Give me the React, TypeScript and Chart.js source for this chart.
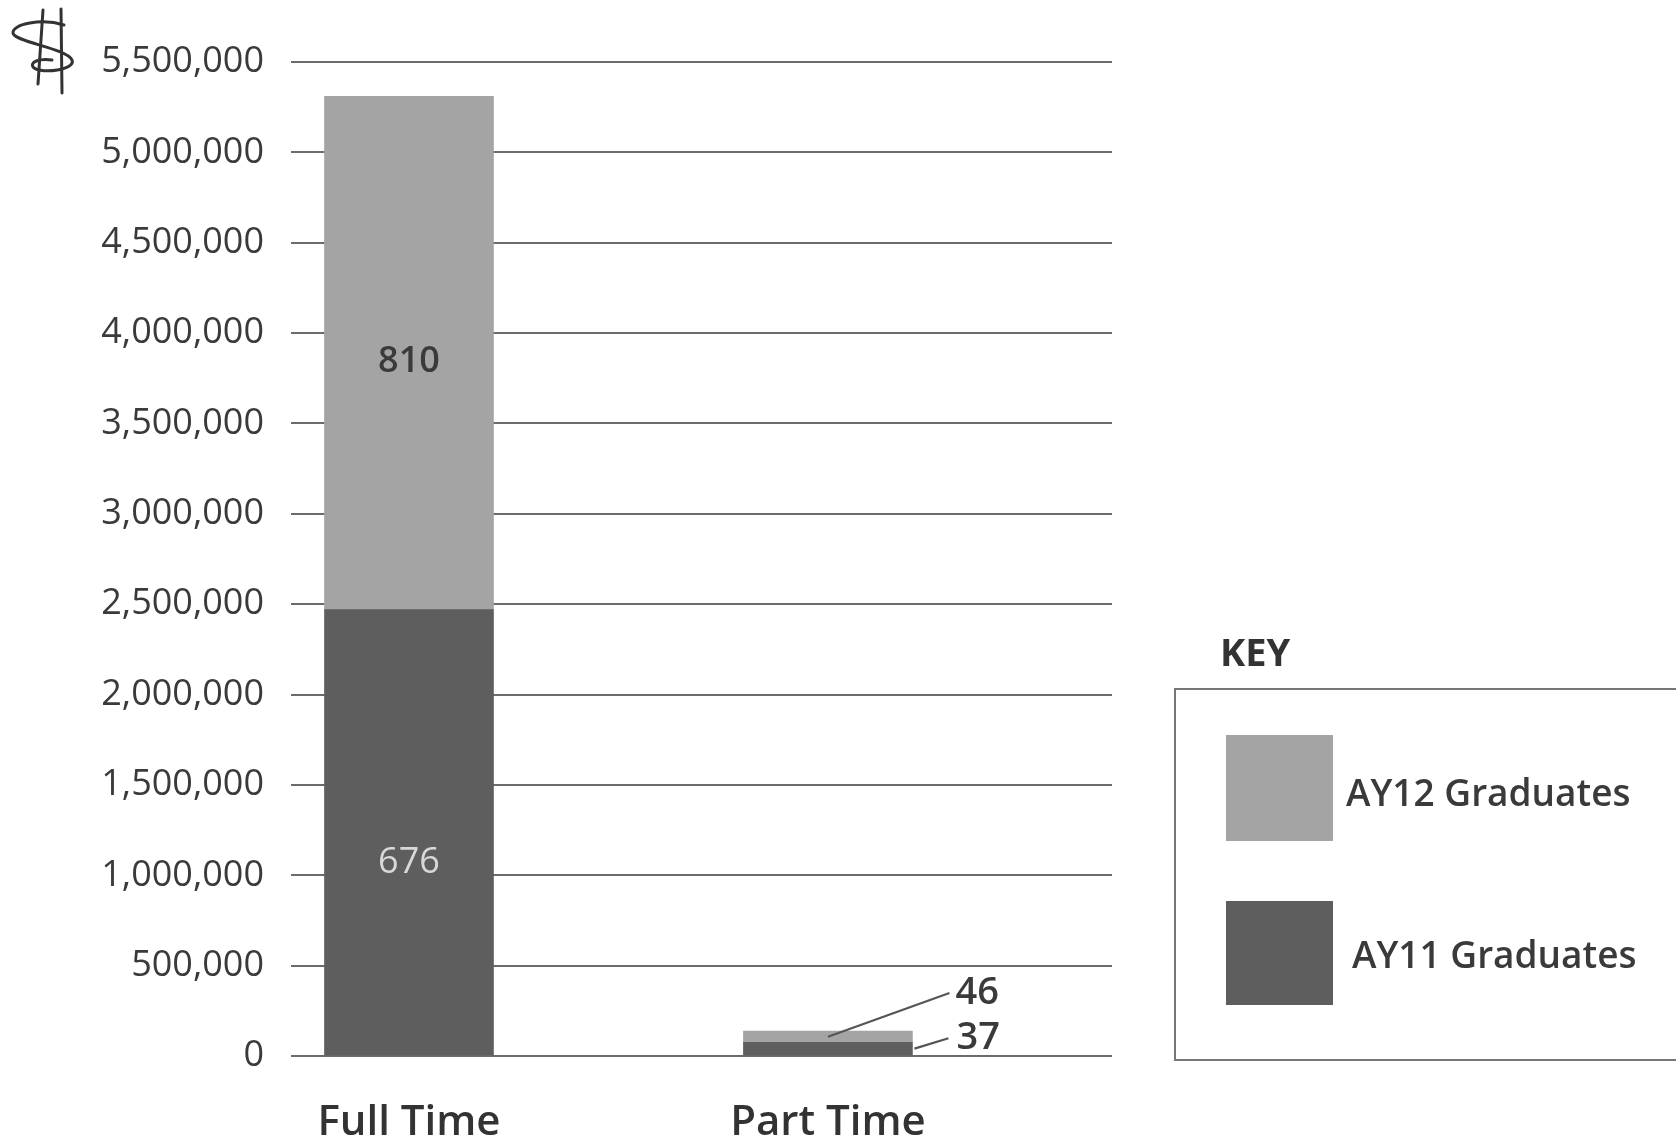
import React, { useEffect, useRef } from "react";
import { Chart, registerables } from "chart.js";

Chart.register(...registerables);

const categories = ["Full Time", "Part Time"];
const ay11Values = [2470000, 76000];
const ay12Values = [2840000, 62000];
const ay11Counts = ["676", "37"];
const ay12Counts = ["810", "46"];
const yMax = 5500000;
const yStep = 500000;
const seriesNames = ["AY11 Graduates", "AY12 Graduates"];
const keyTitle = "KEY";

const LIGHT = "#a4a4a4";
const DARK = "#5e5e5e";
const TEXT = "#3a3a3a";
const FONT = "'Open Sans', 'Noto Sans', sans-serif";

const annotations = {
  id: "annotations",
  afterDatasetsDraw(chart: any) {
    const ctx = chart.ctx;
    const m0 = chart.getDatasetMeta(0);
    const m1 = chart.getDatasetMeta(1);
    const d0 = m0.data[0].getProps(["x", "y", "base", "width"], true);
    const l0 = m1.data[0].getProps(["x", "y", "base", "width"], true);
    ctx.save();
    ctx.textAlign = "center";
    ctx.textBaseline = "middle";
    // full-time labels
    ctx.font = `600 36px ${FONT}`;
    ctx.fillStyle = TEXT;
    ctx.fillText(ay12Counts[0], l0.x, (l0.y + l0.base) / 2 + 9);
    ctx.font = `400 36px ${FONT}`;
    ctx.fillStyle = "#d8d8d8";
    ctx.fillText(ay11Counts[0], d0.x, (d0.y + d0.base) / 2 + 30);

    // part-time leader labels
    const d1 = m0.data[1].getProps(["x", "y", "base", "width"], true);
    const l1 = m1.data[1].getProps(["x", "y", "base", "width"], true);
    const right = l1.x + l1.width / 2;
    ctx.strokeStyle = "#555";
    ctx.lineWidth = 2.2;
    const y46 = l1.y - 38;
    ctx.beginPath();
    ctx.moveTo(l1.x, (l1.y + l1.base) / 2);
    ctx.lineTo(right + 37, y46);
    ctx.stroke();
    const y37 = d1.y - 4;
    ctx.beginPath();
    ctx.moveTo(right + 2, (d1.y + d1.base) / 2);
    ctx.lineTo(right + 36, y37);
    ctx.stroke();
    ctx.font = `600 38px ${FONT}`;
    ctx.fillStyle = TEXT;
    ctx.textAlign = "left";
    ctx.fillText(ay12Counts[1], right + 43, y46);
    ctx.fillText(ay11Counts[1], right + 44, y37);
    ctx.restore();
  },
  afterDraw(chart: any) {
    const ctx = chart.ctx;
    ctx.save();
    // hand-drawn dollar sign
    ctx.strokeStyle = "#333";
    ctx.lineWidth = 3;
    ctx.lineCap = "round";
    ctx.beginPath();
    ctx.moveTo(64, 25);
    ctx.bezierCurveTo(42, 18, 12, 24, 13, 33);
    ctx.bezierCurveTo(14, 42, 66, 48, 72, 60);
    ctx.bezierCurveTo(76, 70, 42, 74, 34, 68);
    ctx.bezierCurveTo(28, 62, 40, 58, 52, 60);
    ctx.stroke();
    ctx.beginPath();
    ctx.moveTo(43, 10);
    ctx.lineTo(38, 84);
    ctx.moveTo(61, 9);
    ctx.lineTo(62, 93);
    ctx.stroke();

    // key
    ctx.fillStyle = "#333";
    ctx.font = `700 38px ${FONT}`;
    ctx.textAlign = "left";
    ctx.textBaseline = "middle";
    ctx.fillText(keyTitle, 1220, 655);
    ctx.strokeStyle = "#777";
    ctx.lineWidth = 2;
    ctx.strokeRect(1175, 689, 560, 371);
    ctx.fillStyle = LIGHT;
    ctx.fillRect(1226, 735, 107, 106);
    ctx.fillStyle = DARK;
    ctx.fillRect(1226, 901, 107, 104);
    ctx.fillStyle = TEXT;
    ctx.font = `600 37px ${FONT}`;
    ctx.fillText(seriesNames[1], 1346, 795);
    ctx.fillText(seriesNames[0], 1352, 957);
    ctx.restore();
  },
};

export default function App() {
  const ref = useRef<HTMLCanvasElement | null>(null);
  useEffect(() => {
    document.body.style.margin = "0";
    document.body.style.overflow = "hidden";
    const canvas = ref.current;
    if (!canvas) return;
    const chart = new Chart(canvas, {
      type: "bar",
      data: {
        datasets: [
          {
            label: seriesNames[0],
            data: categories.map((_, i) => ({ x: i, y: ay11Values[i] })),
            backgroundColor: DARK,
            barThickness: 169,
          },
          {
            label: seriesNames[1],
            data: categories.map((_, i) => ({ x: i, y: ay12Values[i] })),
            backgroundColor: LIGHT,
            barThickness: 169,
          },
        ],
      },
      options: {
        responsive: false,
        animation: false,
        layout: { padding: { left: 0, right: 564, top: 62, bottom: 0 } },
        plugins: { legend: { display: false }, tooltip: { enabled: false } },
        scales: {
          x: {
            type: "linear",
            stacked: true,
            offset: false,
            min: -0.2816,
            max: 1.678,
            grid: { display: false, drawTicks: false, offset: false },
            border: { display: false },
            afterBuildTicks: (scale: any) => {
              scale.ticks = categories.map((_, i) => ({ value: i }));
            },
            afterFit: (scale: any) => {
              scale.height = 86;
            },
            ticks: {
              autoSkip: false,
              maxRotation: 0,
              padding: 42,
              color: "#333",
              font: { family: FONT, size: 42, weight: "600" },
              callback: (v: any) => categories[Math.round(Number(v))] ?? "",
            },
          },
          y: {
            stacked: true,
            min: 0,
            max: yMax,
            grid: { color: "#6b6b6b", lineWidth: 2, drawTicks: false },
            border: { display: false },
            afterFit: (scale: any) => {
              scale.width = 291;
            },
            ticks: {
              stepSize: yStep,
              padding: 27,
              color: TEXT,
              font: { family: FONT, size: 36 },
              callback: (v: any) => Number(v).toLocaleString("en-US"),
            },
          },
        },
      },
      plugins: [annotations],
    });
    return () => chart.destroy();
  }, []);
  return (
    <canvas
      ref={ref}
      width={1676}
      height={1142}
      style={{ display: "block", width: 1676, height: 1142 }}
    />
  );
}
